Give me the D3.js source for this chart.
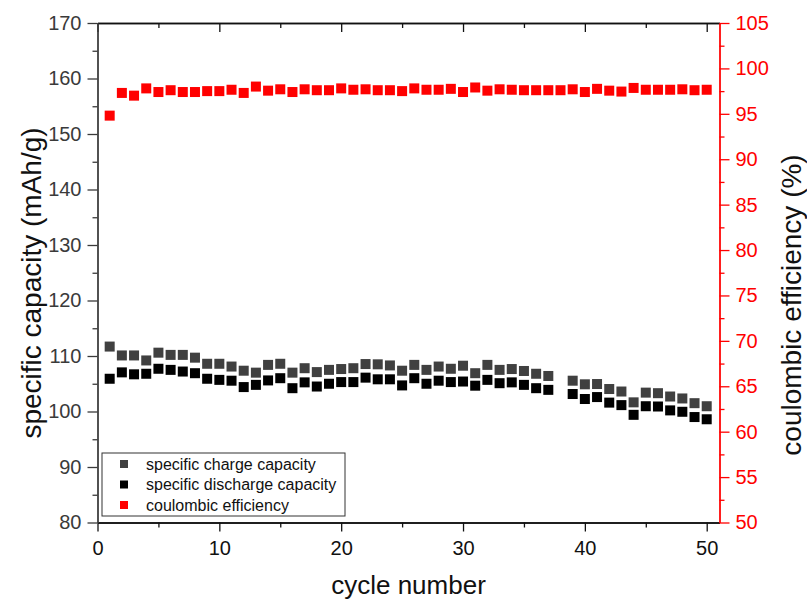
<!DOCTYPE html>
<html><head><meta charset="utf-8">
<script src="https://cdn.jsdelivr.net/npm/d3@7"></script>
<style>body{margin:0;background:#fff;} text{font-family:"Liberation Sans",Arial,sans-serif;}</style>
</head><body><svg id="c" width="807" height="600"></svg>
<script>
const cycles = d3.range(1, 51);
const chargeCapacity = [111.7,110.1,110.1,109.2,110.6,110.2,110.2,109.7,108.6,108.6,
  108.1,107.35,107.0,108.4,108.6,107.0,107.8,107.1,107.5,107.65,
  107.8,108.55,108.5,108.3,107.35,108.4,107.5,108.1,107.7,108.25,
  106.9,108.4,107.5,107.65,107.3,106.8,106.4,null,105.55,104.9,
  104.95,104.05,103.6,101.65,103.4,103.3,102.7,102.35,101.5,100.95];
const dischargeCapacity = [105.9,107.05,106.7,106.8,107.7,107.5,107.2,106.9,105.9,105.7,
  105.55,104.4,104.8,105.6,106.0,104.2,105.25,104.5,105.0,105.3,
  105.3,106.1,105.8,105.8,104.7,106.0,105.0,105.55,105.3,105.4,
  104.65,105.7,105.1,105.25,104.8,104.2,103.9,null,103.15,102.25,
  102.6,101.6,101.15,99.4,100.95,100.9,100.2,99.95,99.0,98.6];
const coulombicEfficiency = [94.8,97.3,97.0,97.8,97.4,97.6,97.4,97.4,97.5,97.5,
  97.65,97.3,98.0,97.55,97.7,97.4,97.7,97.6,97.6,97.8,
  97.65,97.7,97.6,97.6,97.5,97.8,97.65,97.65,97.75,97.4,
  97.9,97.55,97.7,97.65,97.6,97.6,97.6,97.6,97.7,97.4,
  97.75,97.55,97.45,97.85,97.65,97.65,97.65,97.7,97.6,97.65];
const xTicks = [0,10,20,30,40,50];
const leftTicks = [80,90,100,110,120,130,140,150,160,170];
const rightTicks = [50,55,60,65,70,75,80,85,90,95,100,105];
const legendLabels = ["specific charge capacity","specific discharge capacity","coulombic efficiency"];
const seriesColors = ["#404040","#000000","#ff0000"];

const L=97.5, R=719.5, T=23, B=522.5;
const svg = d3.select("#c");
const x = d3.scaleLinear().domain([0,51.05]).range([L,R]);
const yL = d3.scaleLinear().domain([80,170]).range([B,T]);
const yR = d3.scaleLinear().domain([50,105]).range([B,T]);

function styleAxis(g, color, fs){
  g.select(".domain").attr("stroke",color).attr("stroke-width",1.3);
  g.selectAll(".tick line").attr("stroke",color).attr("stroke-width",1.3);
  g.selectAll(".tick text").attr("fill",color).style("font-size",fs+"px").style("font-family","Liberation Sans, Arial, sans-serif");
}

// bottom axis
const xMinor = d3.range(5,51,10);
const gxm = svg.append("g").attr("transform",`translate(0,${B})`).call(d3.axisBottom(x).tickValues(xMinor).tickSize(5).tickFormat("").tickSizeOuter(0));
styleAxis(gxm,"#111",20);
const gx = svg.append("g").attr("transform",`translate(0,${B})`).call(d3.axisBottom(x).tickValues(xTicks).tickSize(9).tickPadding(9).tickSizeOuter(0));
styleAxis(gx,"#111",20);
// top axis (inward)
const gtm = svg.append("g").attr("transform",`translate(0,${T})`).call(d3.axisBottom(x).tickValues(xMinor).tickSize(5).tickFormat("").tickSizeOuter(0));
styleAxis(gtm,"#111",20);
const gt = svg.append("g").attr("transform",`translate(0,${T})`).call(d3.axisBottom(x).tickValues(xTicks).tickSize(9).tickFormat("").tickSizeOuter(0));
styleAxis(gt,"#111",20);
// left axis
const gym = svg.append("g").attr("transform",`translate(${L},0)`).call(d3.axisLeft(yL).tickValues(d3.range(85,170,10)).tickSize(5).tickFormat("").tickSizeOuter(0));
styleAxis(gym,"#3a3a3a",20);
const gy = svg.append("g").attr("transform",`translate(${L},0)`).call(d3.axisLeft(yL).tickValues(leftTicks).tickSize(10).tickPadding(6).tickSizeOuter(0));
styleAxis(gy,"#3a3a3a",20);
// right axis
const grm = svg.append("g").attr("transform",`translate(${R},0)`).call(d3.axisRight(yR).tickValues(d3.range(52.5,105,5)).tickSize(5).tickFormat("").tickSizeOuter(0));
styleAxis(grm,"#ff0000",20);
const gr = svg.append("g").attr("transform",`translate(${R},0)`).call(d3.axisRight(yR).tickValues(rightTicks).tickSize(10).tickPadding(6).tickSizeOuter(0));
styleAxis(gr,"#ff0000",20);

// markers
const S=10;
function squares(vals, scale, color){
  svg.append("g").selectAll("rect").data(cycles.map((c,i)=>({c,v:vals[i]})).filter(d=>d.v!=null))
    .join("rect").attr("x",d=>x(d.c)-S/2).attr("y",d=>scale(d.v)-S/2).attr("width",S).attr("height",S).attr("fill",color);
}
squares(chargeCapacity,yL,seriesColors[0]);
squares(dischargeCapacity,yL,seriesColors[1]);
squares(coulombicEfficiency,yR,seriesColors[2]);

// legend
const lg = svg.append("g");
lg.append("rect").attr("x",102).attr("y",453).attr("width",243).attr("height",63).attr("fill","#fff").attr("stroke","#333").attr("stroke-width",1);
legendLabels.forEach((t,i)=>{
  const cy = 464 + i*20.5;
  lg.append("rect").attr("x",120).attr("y",cy-4).attr("width",8).attr("height",8).attr("fill",seriesColors[i]);
  lg.append("text").attr("x",146).attr("y",cy+5.5).attr("fill","#111").style("font-size","16px").text(t);
});

// titles
svg.append("text").attr("x",(L+R)/2).attr("y",594).attr("text-anchor","middle").attr("fill","#111").style("font-size","26px").text("cycle number");
svg.append("text").attr("transform",`translate(41,283) rotate(-90)`).attr("text-anchor","middle").attr("fill","#111").style("font-size","28px").text("specific capacity (mAh/g)");
svg.append("text").attr("transform",`translate(801,305) rotate(-90)`).attr("text-anchor","middle").attr("fill","#111").style("font-size","28px").text("coulombic efficiency (%)");
</script></body></html>
